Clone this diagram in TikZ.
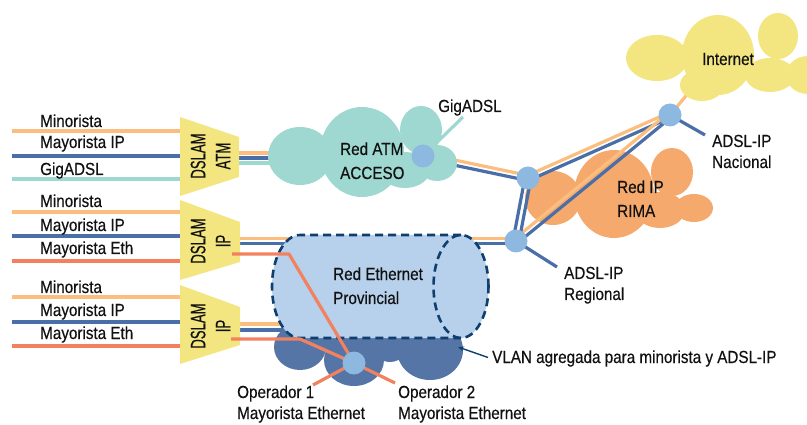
\documentclass[tikz,border=0pt]{standalone}
\usepackage{fontspec}
\setmainfont{Liberation Sans}[FakeStretch=0.87,FakeBold=0.4]
\usepackage{graphicx}
\usetikzlibrary{calc,arrows.meta}
\definecolor{corange}{HTML}{FBBE7E}
\definecolor{cblue}{HTML}{4A6FA8}
\definecolor{cteal}{HTML}{9ED8D0}
\definecolor{cred}{HTML}{F2815F}
\definecolor{cnode}{HTML}{8DB8DF}
\definecolor{ccyl}{HTML}{B7D0EB}
\definecolor{cdash}{HTML}{0F3F6E}
\definecolor{cdark}{HTML}{5475A5}
\definecolor{cyellow}{HTML}{F3E580}
\definecolor{crima}{HTML}{F6A96C}
\definecolor{ctext}{HTML}{111111}
\newcommand\labfont{\fontsize{17.5}{21.5}\selectfont}
\newcommand\dslamfont{\fontsize{21}{25}\selectfont}
\begin{document}
\begin{tikzpicture}[x=1pt,y=-1pt,
  wire/.style={line width=3.2pt},
  owire/.style={wire,draw=corange},
  bwire/.style={wire,draw=cblue},
  twire/.style={wire,draw=cteal},
  rwire/.style={wire,draw=cred},
  netnode/.style={circle,fill=cnode,minimum size=23pt,inner sep=0pt},
  lab/.style={font=\labfont,text=ctext,anchor=base west,inner sep=0pt},
  dslambox/.style={fill=cyellow},
  dslamtxt/.style={font=\dslamfont,text=ctext,rotate=90,align=center,inner sep=0pt}]
\useasboundingbox (0,0) rectangle (807,425);
\clip (0,0) rectangle (807,425);

% node positions
\coordinate (atmc) at (423,156);
\coordinate (Ac) at (528,178);
\coordinate (Bc) at (516,241);
\coordinate (Cc) at (670,115);
\coordinate (opc) at (354,363);

% RIMA cloud
\begin{scope}[fill=crima]
\fill (553,198) ellipse[x radius=28pt,y radius=27pt];
\fill (614,194) ellipse[x radius=40pt,y radius=44pt];
\fill (672,172) ellipse[x radius=21pt,y radius=24pt];
\fill (694,208) ellipse[x radius=19pt,y radius=14pt];
\fill (660,210) ellipse[x radius=25pt,y radius=18pt];
\end{scope}

% input lines
\draw[owire] (12,131) -- (180,131);
\draw[bwire] (12,156) -- (180,156);
\draw[twire] (12,179) -- (180,179);
\draw[owire] (12,212) -- (180,212);
\draw[bwire] (12,236) -- (180,236);
\draw[rwire] (12,261) -- (180,261);
\draw[owire] (12,297) -- (180,297);
\draw[bwire] (12,322) -- (180,322);
\draw[rwire] (12,346) -- (180,346);

% outputs of DSLAMs
\draw[owire] (239,153) -- (310,153);
\draw[bwire] (239,158) -- (310,158);
\draw[twire] (239,163) -- (310,163);
\draw[owire] (240,238.5) -- ($(Bc)+(0,-2.5)$);
\draw[bwire] (240,243.5) -- ($(Bc)+(0,2.5)$);
\draw[owire] (240,324) -- (300,324);
\draw[bwire] (240,330) -- (300,330);

% backbone lines
\draw[owire] ($(atmc)+(0.5,-2.5)$) -- ($(Ac)+(0.5,-2.5)$);
\draw[bwire] ($(atmc)+(-0.5,2.5)$) -- ($(Ac)+(-0.5,2.5)$);
\draw[owire] ($(Ac)+(-1,-2.3)$) -- ($(Cc)+(-1,-2.3)$);
\draw[bwire] ($(Ac)+(1,2.3)$) -- ($(Cc)+(1,2.3)$);
\draw[owire] ($(Bc)+(-1.6,-1.9)$) -- ($(Cc)+(-1.6,-1.9)$);
\draw[bwire] ($(Bc)+(1.6,1.9)$) -- ($(Cc)+(1.6,1.9)$);
\draw[bwire] ($(Ac)+(2.95,0.56)$) -- ($(Bc)+(2.95,0.56)$);
\draw[bwire] ($(Ac)+(-2.95,-0.56)$) -- ($(Bc)+(-2.95,-0.56)$);
\coordinate (inetend) at (695,85);
\draw[owire] (Cc) -- (inetend);
\coordinate (nacend) at (705,135);
\draw[bwire] (Cc) -- (nacend);
\coordinate (regend) at (557,267);
\draw[bwire] (Bc) -- (regend);

% ATM cloud
\begin{scope}[fill=cteal]
\fill (300,156) ellipse[x radius=32pt,y radius=29pt];
\fill (362,152) ellipse[x radius=42pt,y radius=45pt];
\fill (421,130) ellipse[x radius=21pt,y radius=24pt];
\fill (437,163) ellipse[x radius=20pt,y radius=18pt];
\fill (405,170) ellipse[x radius=25pt,y radius=18pt];
\end{scope}
\coordinate (gigend) at (463,117);
\draw[twire] (atmc) -- (gigend);

% Internet cloud
\begin{scope}[fill=cyellow]
\fill (657,58) ellipse[x radius=31pt,y radius=23pt];
\fill (718,55) ellipse[x radius=36pt,y radius=40pt];
\fill (778,36) ellipse[x radius=20pt,y radius=23pt];
\fill (808,75) ellipse[x radius=22pt,y radius=19pt];
\fill (770,75) ellipse[x radius=25pt,y radius=17pt];
\fill (702,85) ellipse[x radius=22pt,y radius=16pt];
\end{scope}

% dark cloud
\begin{scope}[fill=cdark]
\fill (300,347) ellipse[x radius=26pt,y radius=23pt];
\fill (354,360) ellipse[x radius=30pt,y radius=26pt];
\fill (430,350) ellipse[x radius=33pt,y radius=30pt];
\fill (390,340) ellipse[x radius=20pt,y radius=22pt];
\fill (292,318) rectangle (455,350);
\end{scope}

% cylinder
\fill[ccyl] (300,235) -- (461,235)
  arc[start angle=90,end angle=-90,x radius=27.5pt,y radius=51.5pt]
  -- (300,338)
  arc[start angle=270,end angle=90,x radius=28pt,y radius=51.5pt] -- cycle;
\begin{scope}[draw=cdash,line width=2.6pt,dash pattern=on 8pt off 5pt]
\draw (461,235) -- (300,235)
  arc[start angle=90,end angle=270,x radius=28pt,y radius=51.5pt]
  -- (461,338);
\draw (461,286.5) ellipse[x radius=27.5pt,y radius=51.5pt];
\end{scope}

% DSLAMs
\fill[dslambox] (180,117) -- (239,137) -- (239,177) -- (180,196) -- cycle;
\fill[dslambox] (180,200) -- (240,222) -- (240,262) -- (180,280) -- cycle;
\fill[dslambox] (180,285) -- (240,307) -- (240,345) -- (180,364) -- cycle;
\node[dslamtxt] (d1) at (210.5,156) {\scalebox{0.72}[1]{DSLAM}\\\scalebox{0.72}[1]{ATM}};
\node[dslamtxt] (d2) at (210.5,241) {\scalebox{0.72}[1]{DSLAM}\\\scalebox{0.72}[1]{IP}};
\node[dslamtxt] (d3) at (210.5,326) {\scalebox{0.72}[1]{DSLAM}\\\scalebox{0.72}[1]{IP}};

% red Ethernet lines
\draw[rwire,line join=round] (232,254) -- (289,254) -- (opc);
\draw[rwire,line join=round] (231,339) -- (300,339) -- (opc);
\coordinate (op1end) at (313,385);
\coordinate (op2end) at (395,383);
\draw[rwire] (opc) -- (op1end);
\draw[rwire] (opc) -- (op2end);

% net nodes
\node[netnode] (atm) at (atmc) {};
\node[netnode] (A) at (Ac) {};
\node[netnode] (B) at (Bc) {};
\node[netnode] (C) at (Cc) {};
\node[netnode] (op) at (opc) {};

% labels left
\node[lab] (l1) at (40,127) {Minorista};
\node[lab] (l2) at (40,148) {Mayorista IP};
\node[lab] (l3) at (40,175) {GigADSL};
\node[lab] (l4) at (40,207) {Minorista};
\node[lab] (l5) at (40,231) {Mayorista IP};
\node[lab] (l6) at (40,254) {Mayorista Eth};
\node[lab] (l7) at (40,293) {Minorista};
\node[lab] (l8) at (40,316) {Mayorista IP};
\node[lab] (l9) at (40,339) {Mayorista Eth};

% other labels
\node[lab] (ra1) at (340,155) {Red ATM};
\node[lab] (ra2) at (340,179) {ACCESO};
\node[lab] (gig) at (438,112) {GigADSL};
\node[lab] (inet) at (702,65) {Internet};
\node[lab] (ri1) at (617,193) {Red IP};
\node[lab] (ri2) at (617,217) {RIMA};
\node[lab] (na1) at (712,147) {ADSL-IP};
\node[lab] (na2) at (712,168) {Nacional};
\node[lab] (re1) at (564,279) {ADSL-IP};
\node[lab] (re2) at (564,300) {Regional};
\node[lab] (eth1) at (333,280) {Red Ethernet};
\node[lab] (eth2) at (333,304) {Provincial};
\node[lab] (o11) at (237,398) {Operador 1};
\node[lab] (o12) at (237,419) {Mayorista Ethernet};
\node[lab] (o21) at (398,398) {Operador 2};
\node[lab] (o22) at (398,419) {Mayorista Ethernet};
\node[lab] (vlan) at (492,363) {VLAN agregada para minorista y ADSL-IP};
\coordinate (vlantip) at (458,347);
\draw[draw=cdash,line width=1.4pt,-{Stealth[length=6pt,width=5pt]}] ($(vlan.west)+(-4,-1)$) -- (vlantip);
\end{tikzpicture}
\end{document}
